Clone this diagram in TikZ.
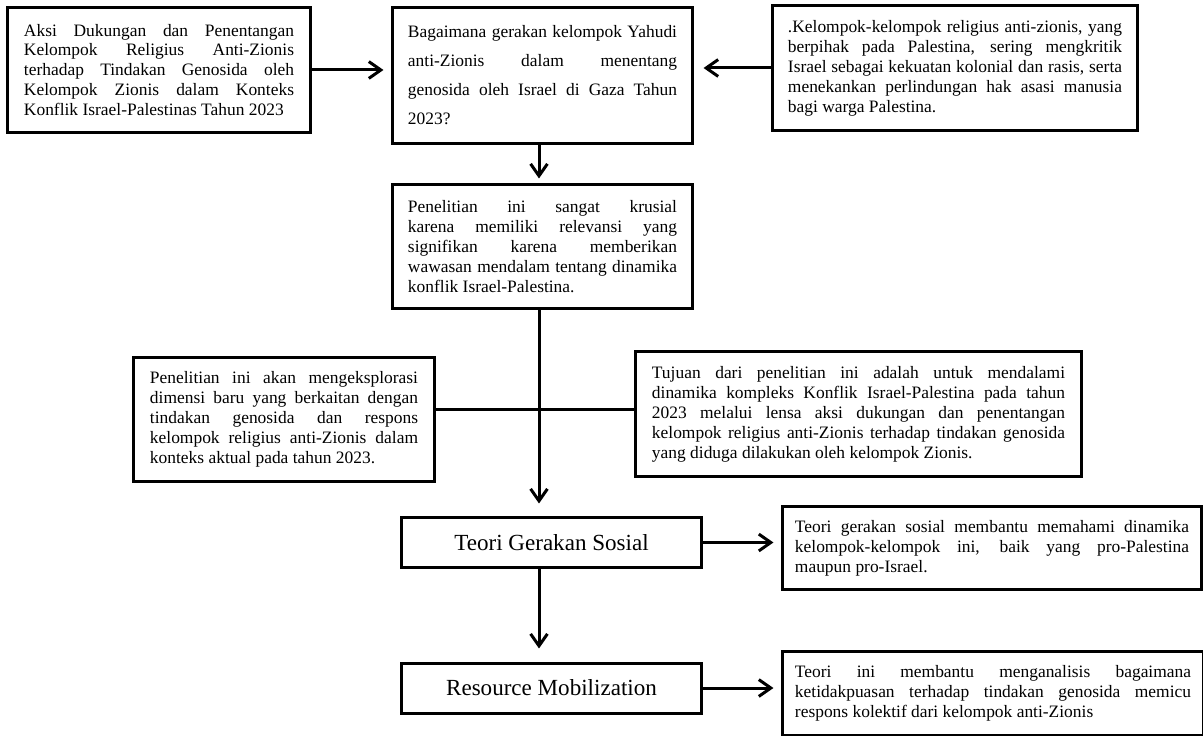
\documentclass[tikz,border=0pt]{standalone}
\usepackage{fontspec}
\setmainfont{Liberation Serif}
\usetikzlibrary{arrows.meta}
\tolerance=10000
\hbadness=10000

\begin{document}
\begin{tikzpicture}[x=0.025cm,y=-0.025cm]
	\tikzset{kotak/.style={draw,line width=0.075cm,align=justify,text width=#1,inner xsep=0.4cm,font=\fontsize{12.4}{14.2}\selectfont},
		teori/.style={draw,line width=0.075cm,minimum width=7.475cm,font=\fontsize{16.4}{19}\selectfont},
		panah/.style={line width=0.075cm,-{Straight Barb[length=0.3cm,width=0.42cm]},shorten >=#1},
		panah/.default=0.2cm}
	\useasboundingbox (0,0) rectangle (1203,736);
	\coordinate (tulang) at (539,0);
	\coordinate (simpang) at (539,409);
	\node[kotak=6.75cm,minimum height=3.1cm] (judul) at (159,70)
	{Aksi Dukungan dan Penentangan\linebreak Kelompok Religius Anti-Zionis\linebreak terhadap Tindakan Genosida oleh\linebreak Kelompok Zionis dalam Konteks\linebreak Konflik Israel-Palestinas Tahun 2023};
	\node[kotak=6.725cm,inner xsep=0.375cm,minimum height=3.375cm,font=\fontsize{12.4}{20.6}\selectfont] (tanya) at (542.5,75.5)
	{Bagaimana gerakan kelompok Yahudi\linebreak anti-Zionis dalam menentang\linebreak genosida oleh Israel di Gaza Tahun\linebreak 2023?};
	\node[kotak=8.35cm,inner xsep=0.375cm,minimum height=3.1cm] (religius) at (955,68)
	{.Kelompok-kelompok religius anti-zionis, yang\linebreak berpihak pada Palestina, sering mengkritik\linebreak Israel sebagai kekuatan kolonial dan rasis, serta\linebreak menekankan perlindungan hak asasi manusia\linebreak bagi warga Palestina.};
	\node[kotak=6.725cm,inner xsep=0.375cm,minimum height=3.075cm] (krusial) at (542.5,246.5)
	{Penelitian ini sangat krusial\linebreak karena memiliki relevansi yang\linebreak signifikan karena memberikan\linebreak wawasan mendalam tentang dinamika\linebreak konflik Israel-Palestina.};
	\node[kotak=6.7cm,minimum height=3.075cm] (dimensi) at (284,419.5)
	{Penelitian ini akan mengeksplorasi\linebreak dimensi baru yang berkaitan dengan\linebreak tindakan genosida dan respons\linebreak kelompok religius anti-Zionis dalam\linebreak konteks aktual pada tahun 2023.};
	\node[kotak=10.325cm,minimum height=3.1cm] (tujuan) at (858.5,414)
	{Tujuan dari penelitian ini adalah untuk mendalami\linebreak dinamika kompleks Konflik Israel-Palestina pada tahun\linebreak 2023 melalui lensa aksi dukungan dan penentangan\linebreak kelompok religius anti-Zionis terhadap tindakan genosida\linebreak yang diduga dilakukan oleh kelompok Zionis.};
	\node[teori,minimum height=1.225cm] (sosial) at (551.5,542.5) {Teori Gerakan Sosial};
	\node[kotak=9.85cm,inner xsep=0.3cm,minimum height=2.05cm] (ketsosial) at (992,548)
	{Teori gerakan sosial membantu memahami dinamika\linebreak kelompok-kelompok ini, baik yang pro-Palestina\linebreak maupun pro-Israel.};
	\node[teori,minimum height=1.25cm] (sumber) at (551.5,688) {Resource Mobilization};
	\node[kotak=9.9cm,inner xsep=0.3cm,minimum height=2.075cm] (ketsumber) at (993,693.5)
	{Teori ini membantu menganalisis bagaimana\linebreak ketidakpuasan terhadap tindakan genosida memicu\linebreak respons kolektif dari kelompok anti-Zionis};
	\draw[panah] (judul.east) -- (judul.east -| tanya.west);
	\draw[panah=0.25cm] (religius.west) -- (religius.west -| tanya.east);
	\draw[panah=0.125cm] (tanya.south -| tulang) -- (krusial.north -| tulang);
	\draw[panah=0.325cm] (krusial.south -| tulang) -- (sosial.north -| tulang);
	\draw[line width=0.075cm] (dimensi.east |- simpang) -- (tujuan.west |- simpang);
	\draw[panah=0.325cm] (sosial.south -| tulang) -- (sumber.north -| tulang);
	\draw[panah] (sosial.east) -- (sosial.east -| ketsosial.west);
	\draw[panah] (sumber.east) -- (sumber.east -| ketsumber.west);
\end{tikzpicture}
\end{document}
